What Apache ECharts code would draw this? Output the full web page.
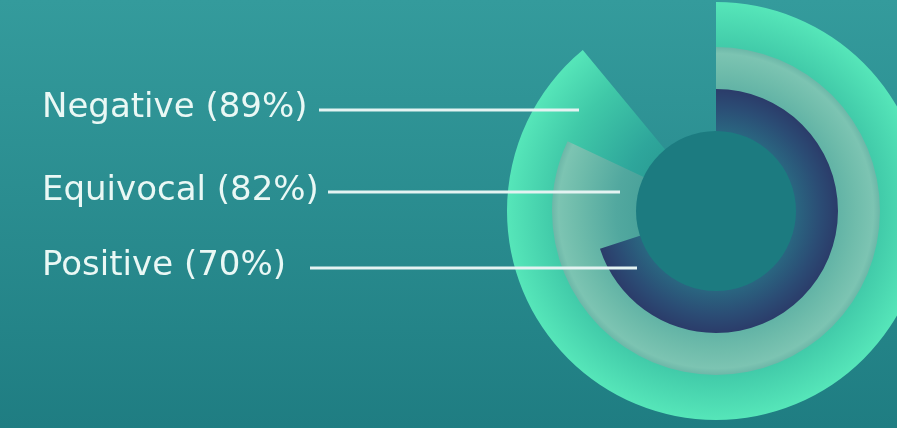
<!DOCTYPE html>
<html>
<head>
<meta charset="utf-8">
<script src="https://cdn.jsdelivr.net/npm/echarts@6/dist/echarts.min.js"></script>
<style>
html,body{margin:0;padding:0;}
#chart{width:897px;height:428px;}
</style>
</head>
<body>
<div id="chart"></div>
<script>
// ---- data ----
const categories = ['Negative', 'Equivocal', 'Positive'];
const values = [89, 82, 70];
const total = 100;

// ---- styling / layout (not data) ----
const center = [716, 211];
const innerR = 80;
const outerRadii = [209, 164, 122];
const ringStops = [
  [[0, '#1f8784'], [0.46, '#2ea69b'], [0.77, '#40c9a8'], [1, '#56e6b9']],
  [[0, '#2f8f8b'], [0.61, '#52a89f'], [0.85, '#6fbcab'], [0.96, '#7cc4b2'], [1, '#6cb7a8']],
  [[0, '#276f80'], [0.66, '#2a6580'], [0.85, '#2b4d75'], [1, '#2b3c6a']]
];
const labelY = [108, 191, 266];
const lineX = [[319, 579], [328, 620], [310, 637]];
const lineY = [110, 192, 268];

function radial(R, stops) {
  return {
    type: 'radial', x: center[0], y: center[1], r: R, global: true,
    colorStops: stops.map(s => ({offset: s[0], color: s[1]}))
  };
}

const series = categories.map((c, i) => ({
  type: 'pie',
  name: c,
  center: center,
  radius: [0, outerRadii[i]],
  startAngle: 90,
  clockwise: true,
  silent: true,
  z: 2 + i,
  label: {show: false},
  labelLine: {show: false},
  emphasis: {disabled: true},
  data: [
    {value: values[i], name: c, itemStyle: {color: radial(outerRadii[i], ringStops[i])}},
    {value: total - values[i], name: '', itemStyle: {color: 'rgba(0,0,0,0)'}}
  ]
}));

// center disc
series.push({
  type: 'pie',
  center: center,
  radius: [0, innerR],
  silent: true,
  z: 10,
  label: {show: false},
  labelLine: {show: false},
  data: [{value: 1, itemStyle: {color: '#1c7b80'}}]
});

const graphic = [];
categories.forEach((c, i) => {
  graphic.push({
    type: 'text', x: 42, y: labelY[i], z: 20,
    style: {
      text: c + ' (' + values[i] + '%)',
      fill: '#eaf8f5',
      font: '34px "DejaVu Sans"',
      verticalAlign: 'middle'
    }
  });
  graphic.push({
    type: 'line', z: 20,
    shape: {x1: lineX[i][0], y1: lineY[i], x2: lineX[i][1], y2: lineY[i]},
    style: {stroke: '#e4f3f2', lineWidth: 3}
  });
});

const chart = echarts.init(document.getElementById('chart'), null, {renderer: 'canvas'});
chart.setOption({
  animation: false,
  backgroundColor: {
    type: 'linear', x: 0, y: 0, x2: 0, y2: 1,
    colorStops: [{offset: 0, color: '#349b9c'}, {offset: 1, color: '#1f7d82'}]
  },
  series: series,
  graphic: graphic
});
</script>
</body>
</html>
